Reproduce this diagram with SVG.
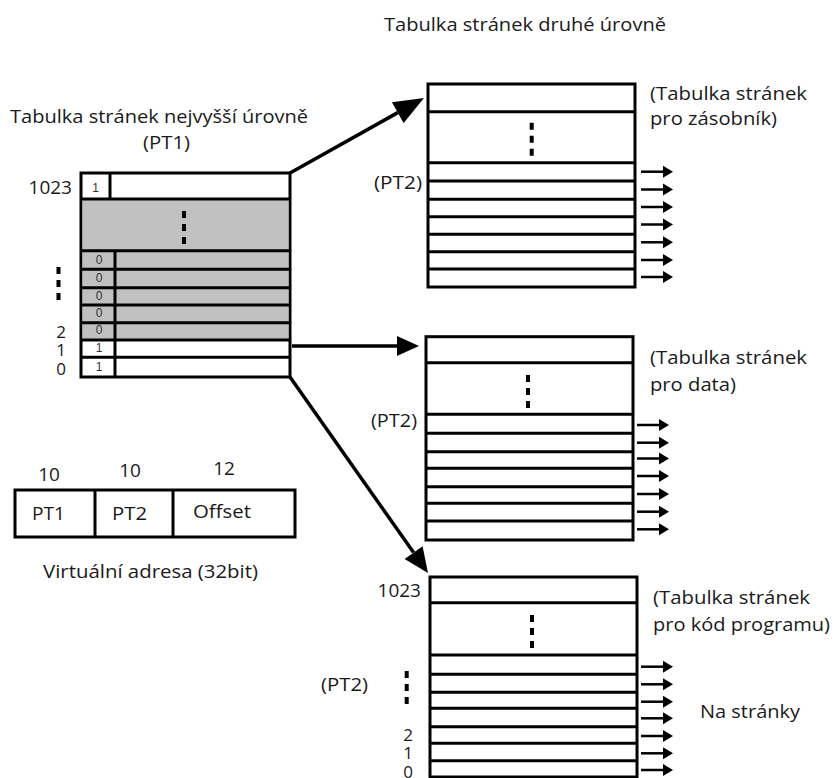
<svg xmlns="http://www.w3.org/2000/svg" width="834" height="778" viewBox="0 0 834 778">
  <style>
    text { font-family: "Open Sans", "Liberation Sans", sans-serif; fill: #1a1a1a; }
    .lbl { font-size: 18.5px; }
    .num { font-size: 19px; }
    .stk { font-size: 17px; text-anchor: end; }
    .cell { font-family: "Liberation Sans", sans-serif; font-size: 12px; text-anchor: middle; fill: #333; }
    .box { fill: #fff; stroke: #000; stroke-width: 3; }
    .gray { fill: #c0c0c0; }
    .row { stroke: #000; stroke-width: 3; fill: none; }
    .dots { stroke: #000; stroke-width: 4; stroke-dasharray: 7 6; fill: none; }
    .conn { stroke: #000; stroke-width: 3.5; fill: none; }
    .out { stroke: #000; stroke-width: 2.5; fill: none; marker-end: url(#ah-small); }
  </style>
  <defs>
    <marker id="ah-big" markerUnits="userSpaceOnUse" markerWidth="30" markerHeight="24" refX="0" refY="12" orient="auto" overflow="visible">
      <path d="M0,0 L30,12 L0,24 z" fill="#000"/>
    </marker>
    <marker id="ah-mid" markerUnits="userSpaceOnUse" markerWidth="22" markerHeight="20" refX="0" refY="10" orient="auto" overflow="visible">
      <path d="M0,0 L22,10 L0,20 z" fill="#000"/>
    </marker>
    <marker id="ah-low" markerUnits="userSpaceOnUse" markerWidth="25" markerHeight="22" refX="0" refY="11" orient="auto" overflow="visible">
      <path d="M0,0 L25,11 L0,22 z" fill="#000"/>
    </marker>
    <marker id="ah-small" markerUnits="userSpaceOnUse" markerWidth="10" markerHeight="12" refX="0" refY="6" orient="auto" overflow="visible">
      <path d="M0,0 L10,6 L0,12 z" fill="#000"/>
    </marker>
  </defs>

  <!-- Titles -->
  <g id="titles">
    <text x="384" y="31" class="lbl" textLength="282" lengthAdjust="spacingAndGlyphs">Tabulka stránek druhé úrovně</text>
    <text x="10" y="123" class="lbl" textLength="298" lengthAdjust="spacingAndGlyphs">Tabulka stránek nejvyšší úrovně</text>
    <text x="143" y="149" class="lbl" textLength="47" lengthAdjust="spacingAndGlyphs">(PT1)</text>
  </g>

  <!-- PT1 top-level table -->
  <g id="pt1">
    <rect x="81" y="173" width="209" height="204" class="box"/>
    <rect x="82.5" y="199" width="206" height="141" class="gray"/>
    <line x1="81" y1="199" x2="290" y2="199" class="row"/>
    <line x1="81" y1="250.7" x2="290" y2="250.7" class="row"/>
    <line x1="81" y1="269.3" x2="290" y2="269.3" class="row"/>
    <line x1="81" y1="287.7" x2="290" y2="287.7" class="row"/>
    <line x1="81" y1="305" x2="290" y2="305" class="row"/>
    <line x1="81" y1="322.7" x2="290" y2="322.7" class="row"/>
    <line x1="81" y1="340" x2="290" y2="340" class="row"/>
    <line x1="81" y1="357.3" x2="290" y2="357.3" class="row"/>
    <line x1="110" y1="173" x2="110" y2="199" class="row"/>
    <line x1="115" y1="250.7" x2="115" y2="377" class="row"/>
    <line x1="184" y1="211" x2="184" y2="244" class="dots"/>
    <text x="95.5" y="192" class="cell">1</text>
    <text x="99" y="264" class="cell">0</text>
    <text x="99" y="282" class="cell">0</text>
    <text x="99" y="300" class="cell">0</text>
    <text x="99" y="317" class="cell">0</text>
    <text x="99" y="334" class="cell">0</text>
    <text x="99" y="352" class="cell">1</text>
    <text x="99" y="371" class="cell">1</text>
    <text x="72" y="194" class="num" text-anchor="end">1023</text>
    <line x1="58.5" y1="267" x2="58.5" y2="300" class="dots"/>
    <text x="66" y="338" class="stk">2</text>
    <text x="66" y="356" class="stk">1</text>
    <text x="66" y="375" class="stk">0</text>
  </g>

  <!-- PT2 stack table -->
  <g id="pt2-stack">
    <rect x="428" y="84" width="207" height="203" class="box"/>
    <line x1="428" y1="111.7" x2="635" y2="111.7" class="row"/>
    <line x1="428" y1="162.7" x2="635" y2="162.7" class="row"/>
    <line x1="428" y1="181" x2="635" y2="181" class="row"/>
    <line x1="428" y1="199.3" x2="635" y2="199.3" class="row"/>
    <line x1="428" y1="216.7" x2="635" y2="216.7" class="row"/>
    <line x1="428" y1="234.3" x2="635" y2="234.3" class="row"/>
    <line x1="428" y1="251.7" x2="635" y2="251.7" class="row"/>
    <line x1="428" y1="269" x2="635" y2="269" class="row"/>
    <line x1="531.7" y1="122.7" x2="531.7" y2="155.7" class="dots"/>
    <text x="374" y="189" class="lbl" textLength="48" lengthAdjust="spacingAndGlyphs">(PT2)</text>
    <text x="650" y="100" class="lbl" textLength="157" lengthAdjust="spacingAndGlyphs">(Tabulka stránek</text>
    <text x="650" y="125" class="lbl" textLength="127" lengthAdjust="spacingAndGlyphs">pro zásobník)</text>
    <line x1="641" y1="171.7" x2="663" y2="171.7" class="out"/>
    <line x1="641" y1="189.5" x2="663" y2="189.5" class="out"/>
    <line x1="641" y1="207" x2="663" y2="207" class="out"/>
    <line x1="641" y1="224.5" x2="663" y2="224.5" class="out"/>
    <line x1="641" y1="242.3" x2="663" y2="242.3" class="out"/>
    <line x1="641" y1="260" x2="663" y2="260" class="out"/>
    <line x1="641" y1="277" x2="663" y2="277" class="out"/>
  </g>

  <!-- PT2 data table -->
  <g id="pt2-data">
    <rect x="426" y="336.7" width="207" height="203.3" class="box"/>
    <line x1="426" y1="362.7" x2="633" y2="362.7" class="row"/>
    <line x1="426" y1="414.3" x2="633" y2="414.3" class="row"/>
    <line x1="426" y1="433.3" x2="633" y2="433.3" class="row"/>
    <line x1="426" y1="451.7" x2="633" y2="451.7" class="row"/>
    <line x1="426" y1="468.3" x2="633" y2="468.3" class="row"/>
    <line x1="426" y1="486.7" x2="633" y2="486.7" class="row"/>
    <line x1="426" y1="503.3" x2="633" y2="503.3" class="row"/>
    <line x1="426" y1="521" x2="633" y2="521" class="row"/>
    <line x1="528" y1="375" x2="528" y2="408" class="dots"/>
    <text x="371" y="427" class="lbl" textLength="46" lengthAdjust="spacingAndGlyphs">(PT2)</text>
    <text x="650" y="364" class="lbl" textLength="157" lengthAdjust="spacingAndGlyphs">(Tabulka stránek</text>
    <text x="650" y="391" class="lbl" textLength="86" lengthAdjust="spacingAndGlyphs">pro data)</text>
    <line x1="637" y1="425" x2="659" y2="425" class="out"/>
    <line x1="637" y1="442.7" x2="659" y2="442.7" class="out"/>
    <line x1="637" y1="458.5" x2="659" y2="458.5" class="out"/>
    <line x1="637" y1="476" x2="659" y2="476" class="out"/>
    <line x1="637" y1="494" x2="659" y2="494" class="out"/>
    <line x1="637" y1="511.7" x2="659" y2="511.7" class="out"/>
    <line x1="637" y1="529.3" x2="659" y2="529.3" class="out"/>
  </g>

  <!-- PT2 code table -->
  <g id="pt2-code">
    <rect x="430" y="577" width="207" height="220" class="box"/>
    <line x1="430" y1="602.7" x2="637" y2="602.7" class="row"/>
    <line x1="430" y1="655" x2="637" y2="655" class="row"/>
    <line x1="430" y1="674.3" x2="637" y2="674.3" class="row"/>
    <line x1="430" y1="692.3" x2="637" y2="692.3" class="row"/>
    <line x1="430" y1="708.3" x2="637" y2="708.3" class="row"/>
    <line x1="430" y1="726.7" x2="637" y2="726.7" class="row"/>
    <line x1="430" y1="743.3" x2="637" y2="743.3" class="row"/>
    <line x1="430" y1="760.7" x2="637" y2="760.7" class="row"/>
    <line x1="430" y1="777" x2="637" y2="777" class="row"/>
    <line x1="532" y1="615" x2="532" y2="648" class="dots"/>
    <text x="421" y="597" class="num" text-anchor="end">1023</text>
    <text x="321" y="691" class="lbl" textLength="47" lengthAdjust="spacingAndGlyphs">(PT2)</text>
    <line x1="406.7" y1="671" x2="406.7" y2="704" class="dots"/>
    <text x="413" y="741" class="stk">2</text>
    <text x="413" y="759" class="stk">1</text>
    <text x="413" y="778" class="stk">0</text>
    <text x="653" y="604" class="lbl" textLength="157" lengthAdjust="spacingAndGlyphs">(Tabulka stránek</text>
    <text x="653" y="631" class="lbl" textLength="177" lengthAdjust="spacingAndGlyphs">pro kód programu)</text>
    <text x="700" y="718" class="lbl" textLength="100" lengthAdjust="spacingAndGlyphs">Na stránky</text>
    <line x1="641" y1="666.7" x2="663" y2="666.7" class="out"/>
    <line x1="641" y1="684.3" x2="663" y2="684.3" class="out"/>
    <line x1="641" y1="701.7" x2="663" y2="701.7" class="out"/>
    <line x1="641" y1="718.3" x2="663" y2="718.3" class="out"/>
    <line x1="641" y1="736" x2="663" y2="736" class="out"/>
    <line x1="641" y1="753.3" x2="663" y2="753.3" class="out"/>
    <line x1="641" y1="770" x2="663" y2="770" class="out"/>
  </g>

  <!-- Virtual address -->
  <g id="vaddr">
    <rect x="15" y="490" width="280" height="47" class="box"/>
    <line x1="95" y1="490" x2="95" y2="537" class="row"/>
    <line x1="173" y1="490" x2="173" y2="537" class="row"/>
    <text x="49" y="481" class="num" text-anchor="middle">10</text>
    <text x="130" y="477" class="num" text-anchor="middle">10</text>
    <text x="224" y="475" class="num" text-anchor="middle">12</text>
    <text x="32" y="520" class="lbl" textLength="33" lengthAdjust="spacingAndGlyphs">PT1</text>
    <text x="112" y="520" class="lbl" textLength="35" lengthAdjust="spacingAndGlyphs">PT2</text>
    <text x="193" y="518" class="lbl" textLength="58" lengthAdjust="spacingAndGlyphs">Offset</text>
    <text x="43" y="578" class="lbl" textLength="215" lengthAdjust="spacingAndGlyphs">Virtuální adresa (32bit)</text>
  </g>

  <!-- Connectors -->
  <g id="connectors">
    <line x1="290" y1="173" x2="397.8" y2="112.6" class="conn" marker-end="url(#ah-big)"/>
    <line x1="292" y1="346" x2="397" y2="346" class="conn" marker-end="url(#ah-mid)"/>
    <line x1="290" y1="377" x2="413.6" y2="552.6" class="conn" marker-end="url(#ah-low)"/>
  </g>
</svg>
